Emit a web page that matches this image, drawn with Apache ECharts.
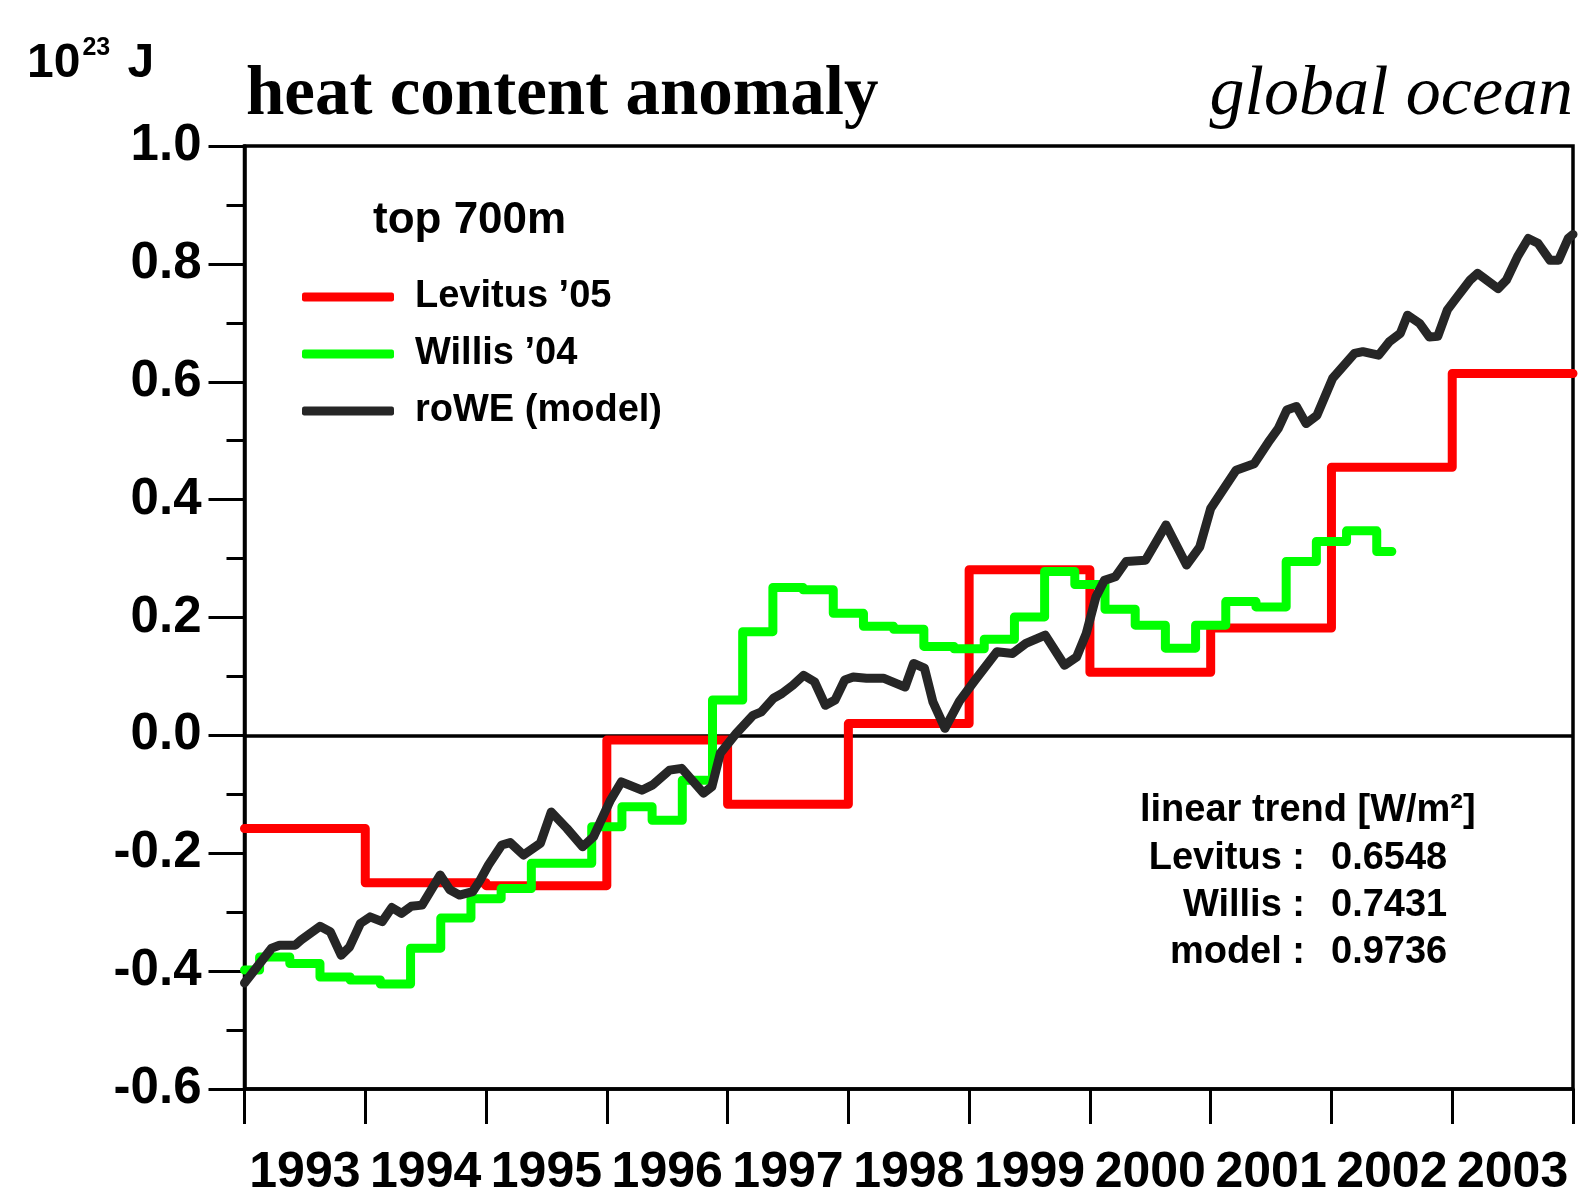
<!DOCTYPE html>
<html>
<head>
<meta charset="utf-8">
<script src="https://cdn.jsdelivr.net/npm/echarts@6/dist/echarts.min.js"></script>
<style>
html,body{margin:0;padding:0;background:#fff;}
#chart{width:1578px;height:1198px;}
</style>
</head>
<body>
<div id="chart"></div>
<script>
// ---- data (10^23 J) ----
const yearTickLabels = ['1993','1994','1995','1996','1997','1998','1999','2000','2001','2002','2003'];

// Levitus '05 : annual values (held over each calendar year)
const levitusYears  = [1993, 1994, 1995, 1996, 1997, 1998, 1999, 2000, 2001, 2002, 2003];
const levitusValues = [-0.158, -0.25, -0.255, -0.008, -0.117, 0.02, 0.281, 0.107, 0.182, 0.455, 0.614];

// Willis '04 : quarterly values
const willisTimes = [1993.00,1993.25,1993.50,1993.75,1994.00,1994.25,1994.50,1994.75,
  1995.00,1995.25,1995.50,1995.75,1996.00,1996.25,1996.50,1996.75,
  1997.00,1997.25,1997.50,1997.75,1998.00,1998.25,1998.50,1998.75,
  1999.00,1999.25,1999.50,1999.75,2000.00,2000.25,2000.50,2000.75,
  2001.00,2001.25,2001.50,2001.75,2002.00,2002.25,2002.50];
const willisValues = [-0.398,-0.376,-0.387,-0.41,-0.415,-0.422,-0.361,-0.31,
  -0.277,-0.26,-0.217,-0.217,-0.155,-0.121,-0.144,-0.076,
  0.06,0.176,0.251,0.247,0.207,0.185,0.18,0.151,
  0.147,0.163,0.201,0.278,0.256,0.214,0.187,0.148,
  0.187,0.227,0.218,0.295,0.329,0.347,0.312];

// roWE (model)
const modelTimes = [1993.00,1993.225,1993.29,1993.42,1993.47,1993.625,1993.71,1993.80,1993.87,1993.96,
  1994.04,1994.14,1994.22,1994.30,1994.38,1994.47,1994.62,1994.70,1994.78,1994.89,1994.95,
  1995.02,1995.13,1995.20,1995.31,1995.45,1995.54,1995.67,1995.80,1995.89,
  1996.03,1996.12,1996.29,1996.38,1996.52,1996.62,1996.80,1996.87,1996.94,
  1997.07,1997.21,1997.28,1997.38,1997.45,1997.54,1997.63,1997.72,1997.81,1997.89,1997.97,
  1998.04,1998.15,1998.29,1998.47,1998.54,1998.63,1998.70,1998.80,1998.92,
  1999.05,1999.23,1999.36,1999.47,1999.63,1999.79,1999.89,1999.97,
  2000.05,2000.12,2000.21,2000.30,2000.46,2000.63,2000.80,2000.91,
  2001.00,2001.10,2001.21,2001.36,2001.49,2001.56,2001.63,2001.71,2001.79,2001.88,
  2002.01,2002.19,2002.26,2002.39,2002.48,2002.57,2002.63,2002.73,2002.81,2002.88,2002.96,
  2003.03,2003.15,2003.21,2003.38,2003.45,2003.54,2003.63,2003.71,2003.81,2003.88,2003.96,2004.00];
const modelValues = [-0.42,-0.361,-0.356,-0.356,-0.347,-0.324,-0.333,-0.373,-0.359,-0.319,
  -0.308,-0.316,-0.292,-0.302,-0.290,-0.288,-0.237,-0.262,-0.271,-0.265,-0.246,
  -0.22,-0.186,-0.182,-0.203,-0.183,-0.130,-0.158,-0.189,-0.172,
  -0.110,-0.079,-0.093,-0.084,-0.059,-0.056,-0.098,-0.087,-0.03,
  0.003,0.034,0.040,0.063,0.071,0.085,0.102,0.091,0.051,0.060,0.094,
  0.099,0.097,0.097,0.082,0.122,0.114,0.057,0.012,0.058,
  0.094,0.142,0.139,0.156,0.170,0.119,0.133,0.173,
  0.235,0.263,0.269,0.295,0.297,0.357,0.289,0.320,
  0.385,0.416,0.450,0.461,0.501,0.521,0.552,0.558,0.529,0.543,
  0.606,0.648,0.651,0.645,0.668,0.682,0.713,0.699,0.676,0.677,0.722,
  0.741,0.773,0.784,0.758,0.773,0.812,0.843,0.835,0.806,0.806,0.843,0.85];

const trendNames  = ['Levitus :', 'Willis :', 'model :'];
const trendValues = ['0.6548', '0.7431', '0.9736'];

// ---- build ----
const SANS = "'Liberation Sans', Arial, Helvetica, sans-serif";
const SERIF = "'Liberation Serif', 'Times New Roman', serif";

const levitusData = levitusYears.map((y, i) => [y, levitusValues[i]]);
levitusData.push([levitusYears[levitusYears.length - 1] + 1, levitusValues[levitusValues.length - 1]]);
const willisData = willisTimes.map((t, i) => [t, willisValues[i]]);
const modelData = modelTimes.map((t, i) => [t, modelValues[i]]);

const chart = echarts.init(document.getElementById('chart'), null, {renderer: 'canvas'});

const graphics = [
  {type: 'text', x: 27, y: 36, style: {
    text: '{a|10}{b|23}{a| J}',
    rich: {
      a: {fontSize: 48, fontWeight: 'bold', fontFamily: SANS, fill: '#000', color: '#000', lineHeight: 52, verticalAlign: 'bottom'},
      b: {fontSize: 25, fontWeight: 'bold', fontFamily: SANS, fill: '#000', color: '#000', lineHeight: 25, verticalAlign: 'top', padding: [0, 4, 0, 2]}
    }
  }},
  {type: 'text', style: {text: 'heat content anomaly', x: 246, y: 96, font: 'bold 69px ' + SERIF, fill: '#000', textVerticalAlign: 'middle'}},
  {type: 'text', style: {text: 'global ocean', x: 1573, y: 96, textAlign: 'right', font: 'italic 70px ' + SERIF, fill: '#000', textVerticalAlign: 'middle'}},
  {type: 'text', style: {text: 'top 700m', x: 373, y: 221, font: 'bold 44px ' + SANS, fill: '#000', textVerticalAlign: 'middle'}},
  {type: 'text', style: {text: 'linear trend [W/m²]', x: 1140, y: 811, font: 'bold 38px ' + SANS, fill: '#000', textVerticalAlign: 'middle'}}
];
const trendY = [859, 906, 953];
trendNames.forEach((n, i) => {
  graphics.push({type: 'text', style: {text: n, x: 1305, y: trendY[i], textAlign: 'right', font: 'bold 38px ' + SANS, fill: '#000', textVerticalAlign: 'middle'}});
  graphics.push({type: 'text', style: {text: trendValues[i], x: 1331, y: trendY[i], font: 'bold 38px ' + SANS, fill: '#000', textVerticalAlign: 'middle'}});
});

const option = {
  animation: false,
  backgroundColor: '#fff',
  grid: {left: 244.5, right: 5, top: 146, bottom: 109, show: true, borderColor: '#000', borderWidth: 3.5, backgroundColor: 'transparent'},
  legend: {
    orient: 'vertical', left: 297, top: 272, itemWidth: 92, itemHeight: 9, itemGap: 17, icon: 'roundRect',
    selectedMode: false,
    textStyle: {fontSize: 38, fontWeight: 'bold', fontFamily: SANS, color: '#000', lineHeight: 40, padding: [0, 0, 0, 16]},
    data: ['Levitus ’05', 'Willis ’04', 'roWE (model)']
  },
  xAxis: [
    {
      type: 'value', min: 1993, max: 2004, interval: 1, position: 'bottom',
      axisLine: {show: true, onZero: false, lineStyle: {color: '#000', width: 3.5}},
      axisTick: {show: true, inside: false, length: 35, lineStyle: {color: '#000', width: 3}},
      axisLabel: {show: false},
      splitLine: {show: false}
    },
    {
      type: 'value', min: 1993, max: 2004, interval: 0.5, position: 'bottom',
      axisLine: {show: false, onZero: false}, axisTick: {show: false}, splitLine: {show: false},
      axisLabel: {
        show: true, margin: 59, fontSize: 50, fontWeight: 'bold', fontFamily: SANS, color: '#000',
        showMinLabel: true, showMaxLabel: true, hideOverlap: false,
        formatter: function (v) {
          const f = Math.round(v * 2) / 2;
          if (Math.abs(f - Math.floor(f) - 0.5) < 1e-6) {
            const idx = Math.floor(f) - 1993;
            return yearTickLabels[idx] || '';
          }
          return '';
        }
      }
    }
  ],
  yAxis: {
    type: 'value', min: -0.6, max: 1.0, interval: 0.2,
    axisLine: {show: true, onZero: false, lineStyle: {color: '#000', width: 3.5}},
    axisTick: {show: true, inside: false, length: 36, lineStyle: {color: '#000', width: 3}},
    minorTick: {show: true, splitNumber: 2, length: 18, lineStyle: {color: '#000', width: 3}},
    splitLine: {show: false},
    axisLabel: {
      margin: 43, fontSize: 51, fontWeight: 'bold', fontFamily: SANS, color: '#000',
      formatter: function (v) { return (Math.round(v * 10) / 10).toFixed(1); }
    }
  },
  series: [
    {
      name: 'Levitus ’05', type: 'line', step: 'end', data: levitusData, xAxisIndex: 0,
      color: '#ff0000', symbol: 'none', silent: true,
      lineStyle: {color: '#ff0000', width: 9, cap: 'round', join: 'round'},
      markLine: {
        silent: true, symbol: ['none', 'none'], label: {show: false},
        lineStyle: {color: '#000', width: 3.5, type: 'solid'},
        data: [{yAxis: 0}], z: 1
      },
      z: 2
    },
    {
      name: 'Willis ’04', type: 'line', step: 'middle', data: willisData, xAxisIndex: 0,
      color: '#00ff00', symbol: 'none', silent: true,
      lineStyle: {color: '#00ff00', width: 9, cap: 'round', join: 'round'},
      z: 3
    },
    {
      name: 'roWE (model)', type: 'line', data: modelData, xAxisIndex: 0,
      color: '#262626', symbol: 'none', silent: true,
      lineStyle: {color: '#262626', width: 9, cap: 'round', join: 'round'},
      z: 4
    }
  ],
  graphic: graphics
};
chart.setOption(option);
</script>
</body>
</html>
